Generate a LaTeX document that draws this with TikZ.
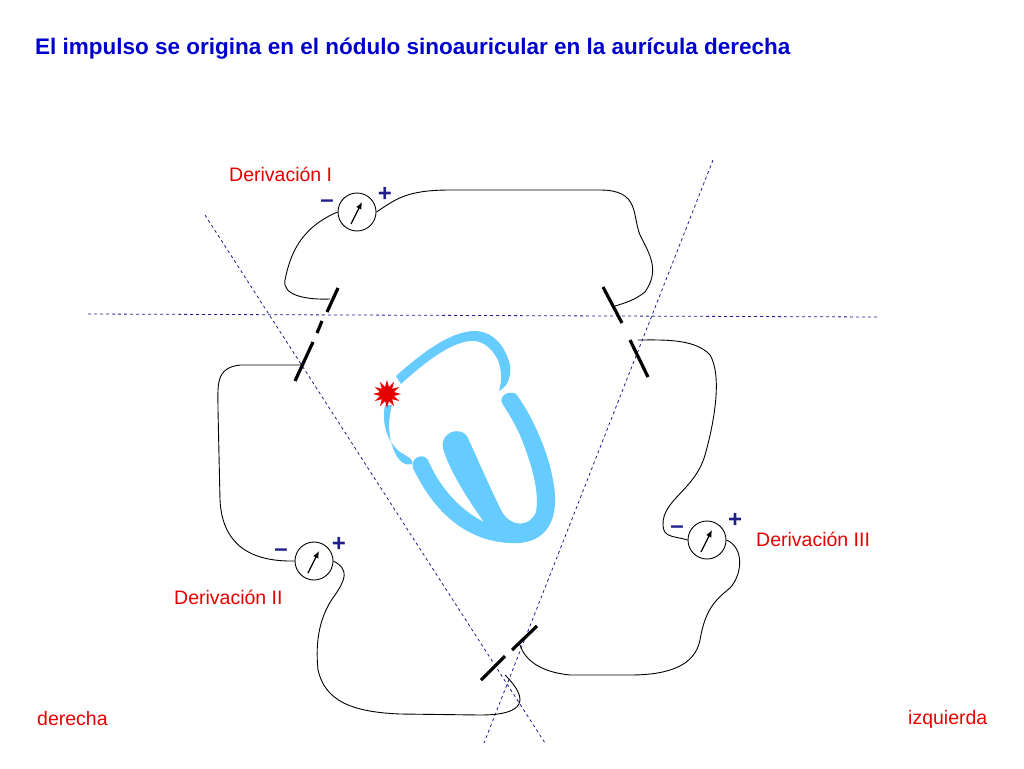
\documentclass[tikz,border=0pt]{standalone}
\usepackage{fontspec}
\setmainfont{Liberation Sans}
\usetikzlibrary{shapes.geometric,arrows.meta}
\definecolor{hb}{RGB}{102,204,255}
\definecolor{tb}{RGB}{0,0,204}
\definecolor{db}{RGB}{30,30,140}
\definecolor{rd}{RGB}{230,0,0}
\begin{document}
\begin{tikzpicture}[x=1pt,y=-1pt,
  guide/.style={db,dashed,line width=0.8pt},
  elec/.style={black,line width=3.2pt},
  wire/.style={black,line width=0.9pt},
  meter/.style={circle,draw,line width=0.9pt,minimum size=38pt,inner sep=0pt},
  lbl/.style={rd,font=\fontsize{19.5}{22}\selectfont,inner sep=0pt,anchor=west},
  sgn/.style={db,font=\bfseries\fontsize{24}{24}\selectfont,inner sep=0pt},
  wall/.style={hb,line cap=round,line join=round}]
\useasboundingbox (0,0) rectangle (1024,768);
\node[anchor=west,tb,font=\bfseries\fontsize{22.5}{26}\selectfont,inner sep=0pt] (title) at (35,49) {El impulso se origina en el nódulo sinoauricular en la aurícula derecha};
% guides
\coordinate (h1) at (88,314); \coordinate (h2) at (878,317);
\coordinate (l1) at (205,215); \coordinate (l2) at (545,743);
\coordinate (r1) at (713,160); \coordinate (r2) at (484,743);
\draw[guide] (h1) -- (h2);
\draw[guide] (l1) -- (l2);
\draw[guide] (r1) -- (r2);
% heart
\fill[hb] (396,376) .. controls (425,350) and (450,333) .. (472,331) .. controls (492,330) and (505,345) .. (510,365) .. controls (512,380) and (505,388) .. (499,391) .. controls (502,380) and (502,372) .. (498,360) .. controls (490,345) and (480,340) .. (470,341) .. controls (450,343) and (425,362) .. (401,384) -- cycle;
\fill[hb] (385,405) .. controls (382,420) and (385,440) .. (400,452) .. controls (410,458) and (414,460) .. (412,464) .. controls (405,466) and (398,462) .. (393,448) .. controls (388,435) and (388,420) .. (392,405) -- cycle;
\fill[hb] (413,468) .. controls (410,458) and (423,452) .. (428,460)
  .. controls (440,488) and (460,510) .. (484,522)
  .. controls (468,500) and (448,468) .. (443,448) .. controls (440,432) and (460,426) .. (467,436)
  .. controls (478,460) and (492,492) .. (502,512) .. controls (512,528) and (530,527) .. (536,512)
  .. controls (540,490) and (530,460) .. (520,435) .. controls (512,418) and (505,408) .. (502,403)
  .. controls (499,396) and (508,390) .. (516,394)
  .. controls (530,412) and (548,450) .. (553,480) .. controls (560,515) and (550,540) .. (520,543)
  .. controls (480,545) and (440,525) .. (413,468) -- cycle;
\node[star,star points=12,star point ratio=1.9,fill=rd,inner sep=0pt,minimum size=28pt] (sa) at (387,394) {};
% electrodes
\coordinate (ea1) at (338,288); \coordinate (ea2) at (327,312);
\coordinate (eb1) at (322,321); \coordinate (eb2) at (317,333);
\coordinate (ec1) at (313,342); \coordinate (ec2) at (295,381);
\draw[elec] (ea1)--(ea2) (eb1)--(eb2) (ec1)--(ec2);
\coordinate (er1) at (603,287); \coordinate (er2) at (622,323);
\coordinate (er3) at (630,340); \coordinate (er4) at (648,377);
\draw[elec] (er1)--(er2) (er3)--(er4);
\coordinate (eo1) at (481,680); \coordinate (eo2) at (505,656);
\coordinate (eo3) at (512,650); \coordinate (eo4) at (537,626);
\draw[elec] (eo1)--(eo2) (eo3)--(eo4);
% meters
\node[meter] (m1) at (357,212) {};
\node[meter] (m2) at (314,561) {};
\node[meter] (m3) at (707,540) {};
\foreach \m in {m1,m2,m3}{\draw[line width=1.3pt,-{Latex[length=7pt,width=6pt]}] ([shift={(-6,12)}]\m.center) -- ([shift={(5,-10)}]\m.center);}
\node[sgn] (m1n) at (327,204) {–}; \node[sgn] (m1p) at (385,194) {+};
\node[sgn] (m2n) at (281,553) {–}; \node[sgn] (m2p) at (339,544) {+};
\node[sgn] (m3n) at (677,530) {–}; \node[sgn] (m3p) at (735,520) {+};
\node[lbl] (d1) at (229,174) {Derivación I};
\node[lbl] (d2) at (174,597) {Derivación II};
\node[lbl] (d3) at (756,539) {Derivación III};
\node[lbl] (dr) at (37,719) {derecha};
\node[lbl] (iz) at (908,719) {izquierda};
% wires
\draw[wire] (m1.west) .. controls (300,228) and (290,255) .. (285,280) .. controls (282,295) and (305,300) .. (330,299);
\draw[wire] (m1.east) .. controls (395,200) and (405,190) .. (450,190) -- (600,190) .. controls (640,190) and (632,215) .. (640,235) .. controls (650,255) and (660,270) .. (645,292) .. controls (635,300) and (625,303) .. (615,306);
\draw[wire] (304,365) -- (240,365) .. controls (215,368) and (218,385) .. (218,410) -- (220,500) .. controls (222,540) and (245,562) .. (m2.west);
\draw[wire] (m2.east) .. controls (350,570) and (345,580) .. (335,595) .. controls (320,615) and (315,640) .. (318,670) .. controls (325,700) and (350,712) .. (400,714) -- (480,715) .. controls (525,715) and (530,700) .. (505,675);
\draw[wire] (638,340) .. controls (660,340) and (695,338) .. (710,355) .. controls (722,375) and (715,420) .. (705,455) .. controls (695,490) and (662,500) .. (663,525) .. controls (663,538) and (675,536) .. (m3.west);
\draw[wire] (m3.east) .. controls (745,548) and (742,575) .. (730,588) .. controls (715,600) and (705,610) .. (700,640) .. controls (695,665) and (670,675) .. (630,675) -- (570,675) .. controls (540,672) and (525,660) .. (520,645);
\end{tikzpicture}
\end{document}
